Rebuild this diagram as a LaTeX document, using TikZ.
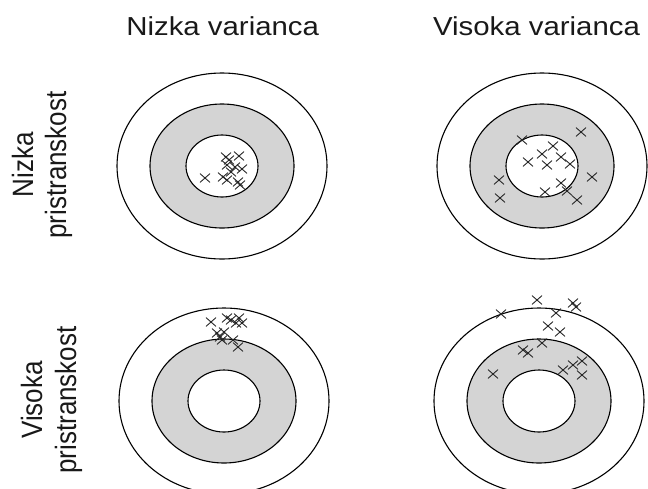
\documentclass[tikz,border=0pt]{standalone}
\usepackage{fontspec}
\setmainfont{Liberation Sans}
\usepackage{graphicx}
\begin{document}
\begin{tikzpicture}[x=1pt,y=-1pt,
  ringline/.style={draw=black, line width=1.1pt},
  band/.style={ringline, fill=black!17},
  crossline/.style={draw=black!85, line width=0.9pt},
  xm/.pic={\draw[crossline] (-5pt,-4.4pt)--(5pt,4.4pt) (-5pt,4.4pt)--(5pt,-4.4pt);},
  head/.style={font=\fontsize{26}{30}\selectfont, text=black!90, anchor=base, inner sep=0pt},
  side/.style={font=\fontsize{26}{30}\selectfont, text=black!90, anchor=base, rotate=90, inner sep=0pt}]
\useasboundingbox (0,0) rectangle (648,488);
\clip (0,0) rectangle (648,488);

% column headings
\node[head] (h1) at (222.7,35.7) {\scalebox{1.13}[1]{Nizka varianca}};
\node[head] (h2) at (536.5,35.7) {\scalebox{1.13}[1]{Visoka varianca}};

% row headings
\node[side] (r1a) at (33,165) {\scalebox{1}[1.13]{Nizka}};
\node[side] (r1b) at (66,165) {\scalebox{1}[1.13]{pristranskost}};
\node[side] (r2a) at (42,400) {\scalebox{1}[1.13]{Visoka}};
\node[side] (r2b) at (76,400) {\scalebox{1}[1.13]{pristranskost}};

% targets: outer ring, shaded band, bull's eye
\foreach \cx/\cy in {222/166, 542/166, 224/401, 539/401}{
  \draw[ringline] (\cx,\cy) ellipse [x radius=105pt, y radius=93pt];
  \draw[band] (\cx,\cy) ellipse [x radius=72pt, y radius=62pt];
  \draw[ringline, fill=white] (\cx,\cy) ellipse [x radius=36pt, y radius=31pt];
}

% low bias, low variance
\foreach \p in {(205,178),(226,157),(239,156),(227,165),(235,167),(242,169),
                (223,177),(227,180),(238,182),(240,185),(231,172),(229,160)}
  \pic at \p {xm};

% low bias, high variance
\foreach \p in {(522,140),(581,132),(553,146),(542,154),(528,162),(547,165),
                (561,157),(570,164),(592,177),(499,180),(500,198),(561,183),
                (545,192),(577,200),(567,191)}
  \pic at \p {xm};

% high bias, low variance
\foreach \p in {(211,322),(227,318),(239,318),(242,323),(236,323),(231,320),
                (217,333),(220,337),(224,332),(233,340),(238,347),(222,340)}
  \pic at \p {xm};

% high bias, high variance
\foreach \p in {(537,300),(573,303),(576,307),(501,314),(556,313),(548,326),
                (560,332),(542,343),(523,350),(528,353),(493,374),(563,370),
                (573,365),(582,361),(582,375)}
  \pic at \p {xm};
\end{tikzpicture}
\end{document}
